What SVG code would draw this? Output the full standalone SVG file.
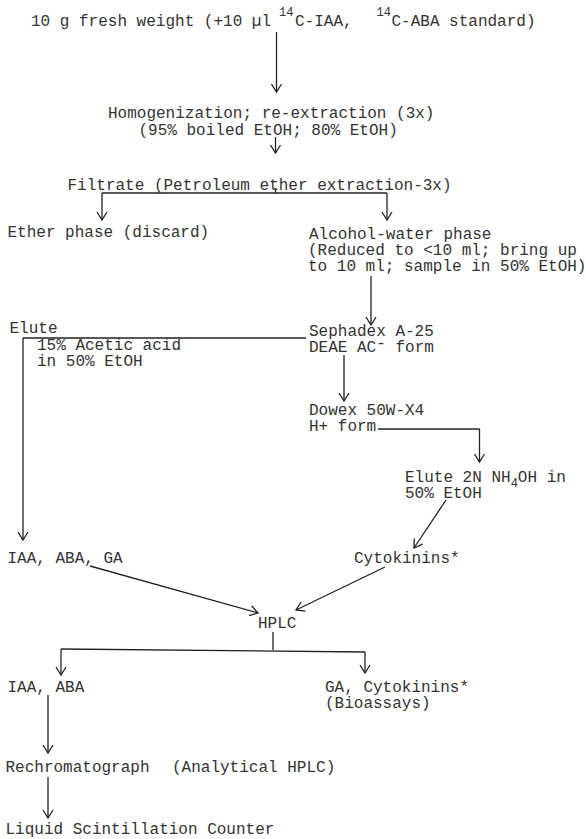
<svg xmlns="http://www.w3.org/2000/svg" width="586" height="839" viewBox="0 0 586 839">
<defs>
<marker id="ah" viewBox="-10 -6 12 12" refX="0" refY="0" markerWidth="12" markerHeight="12" orient="auto" markerUnits="userSpaceOnUse">
<path d="M-8,-5 L0,0 L-8,5" fill="none" stroke="#222" stroke-width="1.3"/>
</marker>
</defs>
<style>
text{font-family:"Liberation Mono","Courier New",monospace;font-size:16px;fill:#333}
.sup{font-size:12px}
.ln{fill:none;stroke:#222;stroke-width:1.3}
.ar{fill:none;stroke:#222;stroke-width:1.3;marker-end:url(#ah)}
</style>
<rect width="586" height="839" fill="#fff"/>
<g id="connectors">
<path class="ar" d="M276.5,32 V92"/>
<path class="ar" d="M275.5,137 V153"/>
<path class="ln" d="M275.5,188 V193 M102,193 H387"/>
<path class="ar" d="M102,193 V220"/>
<path class="ar" d="M387,193 V220"/>
<path class="ar" d="M371,276 V325"/>
<path class="ln" d="M306,338 H23"/>
<path class="ar" d="M23,338 V540"/>
<path class="ar" d="M344,355 V401"/>
<path class="ln" d="M378,429 H479.5"/>
<path class="ar" d="M479.5,429 V462"/>
<path class="ar" d="M446,500 L414,548"/>
<path class="ar" d="M90,566 L258,613"/>
<path class="ar" d="M385,567 L296,610"/>
<path class="ln" d="M273,632 V650 M61,649 L365,652"/>
<path class="ar" d="M61,649 V675"/>
<path class="ar" d="M365,652 V673"/>
<path class="ar" d="M48,695 V753"/>
<path class="ar" d="M48,777 V818"/>
</g>
<g id="n1"><text x="31" y="26">10 g fresh weight (+10 µl<tspan class="sup" x="279" y="16">14</tspan><tspan x="295" y="26">C-IAA,</tspan><tspan class="sup" x="376.5" y="16">14</tspan><tspan x="391.5" y="26">C-ABA standard)</tspan></text></g>
<g id="n2"><text x="108" y="118">Homogenization; re-extraction (3x)</text><text x="138.5" y="135">(95% boiled EtOH; 80% EtOH)</text></g>
<g id="n3"><text x="67.5" y="190">Filtrate (Petroleum ether extraction-3x)</text></g>
<g id="n4"><text x="7.5" y="237">Ether phase (discard)</text></g>
<g id="n5"><text x="309" y="239">Alcohol-water phase</text><text x="308" y="255">(Reduced to &lt;10 ml; bring up</text><text x="308" y="271">to 10 ml; sample in 50% EtOH)</text></g>
<g id="n6"><text x="309" y="336">Sephadex A-25</text><text x="309" y="352">DEAE AC<tspan dy="-4">-</tspan><tspan dy="4"> form</tspan></text></g>
<g id="n7"><text x="9.5" y="333">Elute</text><text x="37" y="350">15% Acetic acid</text><text x="37" y="366">in 50% EtOH</text></g>
<g id="n8"><text x="309" y="415">Dowex 50W-X4</text><text x="309" y="431">H+ form</text></g>
<g id="n9"><text x="405" y="482">Elute 2N NH<tspan class="sup" dy="5">4</tspan><tspan dy="-5">OH in</tspan></text><text x="405" y="498">50% EtOH</text></g>
<g id="n10"><text x="7.5" y="563">IAA, ABA, GA</text></g>
<g id="n11"><text x="354" y="563">Cytokinins*</text></g>
<g id="n12"><text x="258" y="628">HPLC</text></g>
<g id="n13"><text x="7.5" y="692">IAA, ABA</text></g>
<g id="n14"><text x="325" y="692">GA, Cytokinins*</text><text x="325" y="708">(Bioassays)</text></g>
<g id="n15"><text x="5.5" y="772">Rechromatograph<tspan x="172">(Analytical HPLC)</tspan></text></g>
<g id="n16"><text x="5.5" y="834">Liquid Scintillation Counter</text></g>
</svg>
